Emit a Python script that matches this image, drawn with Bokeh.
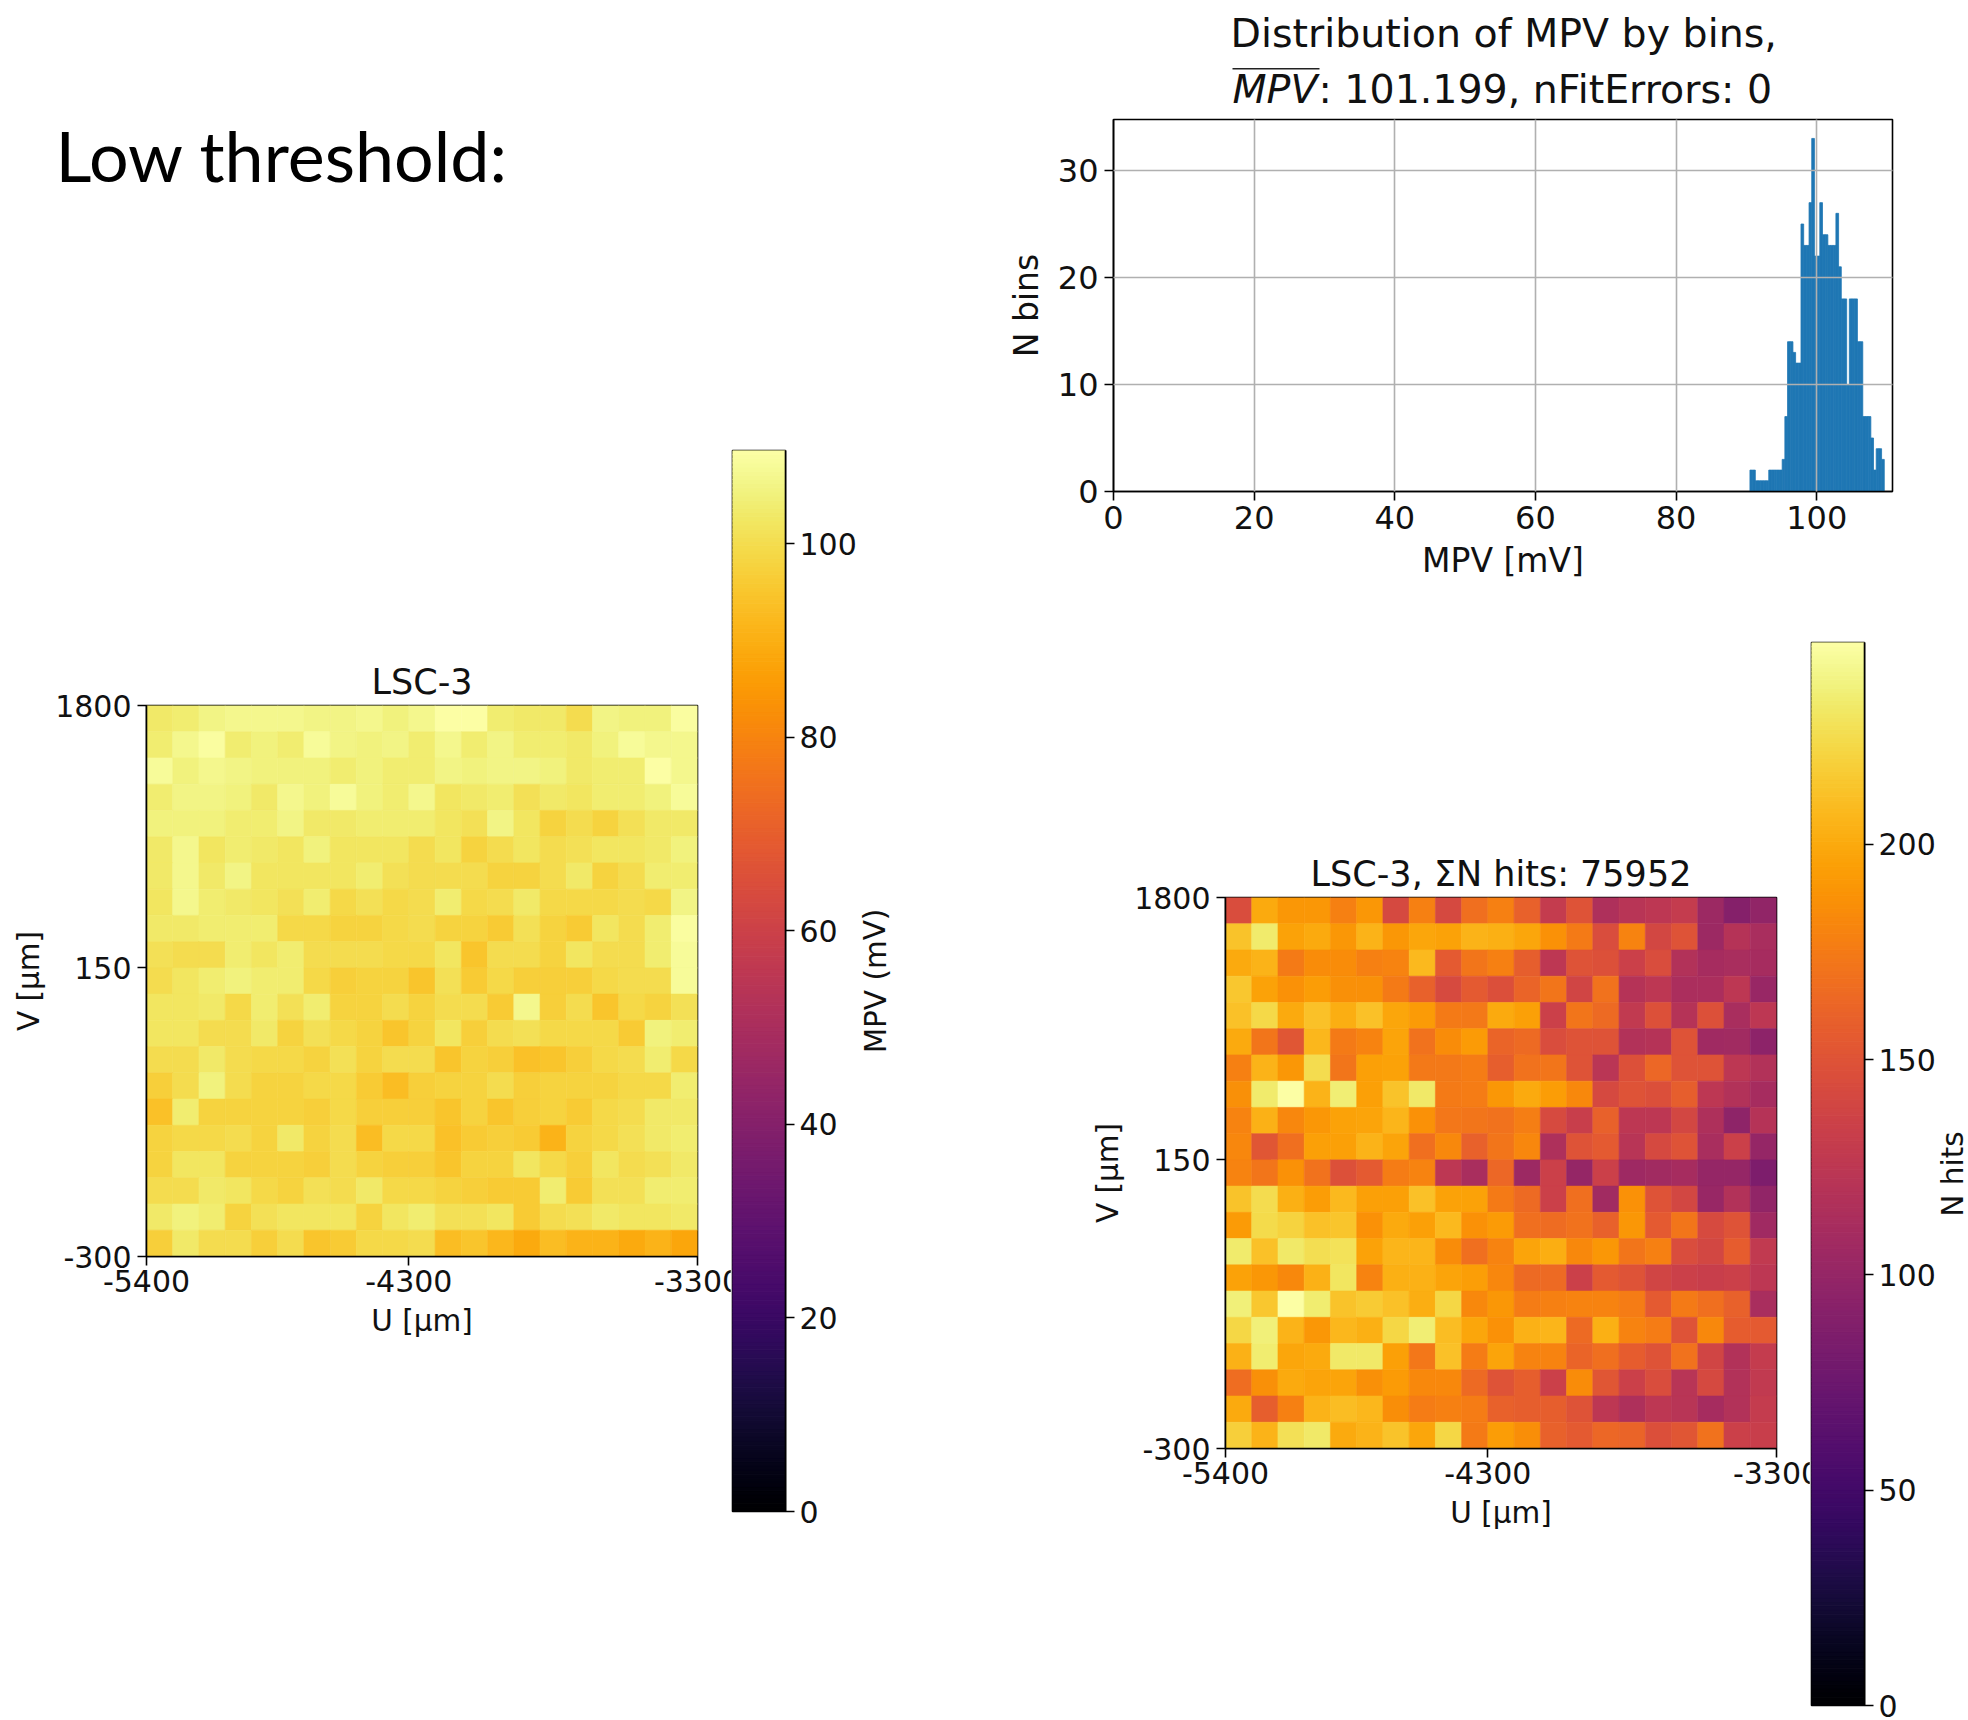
from bokeh.core.properties import value
import math
from bokeh.embed import file_html
from bokeh.resources import INLINE
from bokeh.layouts import row, column
from bokeh.models import Range1d, FixedTicker, LinearColorMapper, ColumnDataSource, Spacer
from bokeh.palettes import Inferno256
from bokeh.plotting import figure
from bokeh.transform import transform

mpv_matrix = [
 [103,104,106,107,107,107,106,106,107,105,107,110,110,104,103,103,100,106,105,105,109],
 [104,107,109,104,105,104,108,106,105,106,104,107,104,106,104,104,103,105,108,107,107],
 [108,105,107,106,105,105,105,104,105,104,104,106,105,106,106,105,103,104,104,110,107],
 [104,106,106,105,103,107,105,108,105,104,107,102,103,104,101,103,102,104,104,105,108],
 [105,105,105,104,104,106,103,103,104,104,104,102,101,106,102,98,100,98,101,103,103],
 [103,107,102,104,103,102,105,102,102,102,100,102,98,100,102,100,101,102,102,103,105],
 [103,107,103,106,102,102,102,102,104,101,100,100,100,98,98,100,103,98,100,104,104],
 [102,107,104,103,102,101,104,99,101,99,100,104,99,100,103,99,99,99,100,99,106],
 [103,103,104,104,104,99,99,98,98,99,100,98,98,96,101,98,96,102,100,104,109],
 [101,100,100,104,102,104,100,100,100,99,99,102,95,100,100,98,102,100,100,104,108],
 [100,102,104,105,104,104,99,97,98,98,95,101,96,99,97,97,97,99,100,100,108],
 [102,102,103,99,104,101,104,98,98,100,98,100,100,96,107,97,100,95,99,98,101],
 [102,102,100,100,103,98,101,99,98,95,98,102,97,100,101,99,99,99,96,105,104],
 [100,100,103,100,99,99,98,101,98,100,100,95,98,97,94,95,97,99,100,104,99],
 [97,100,105,100,98,98,99,99,96,93,97,98,98,100,97,98,98,98,99,99,104],
 [94,104,98,98,98,98,97,99,97,97,97,95,98,95,97,98,96,99,100,103,103],
 [98,99,99,100,98,103,98,100,93,99,99,94,96,97,96,91,98,99,101,103,104],
 [98,102,102,98,98,98,97,100,98,97,97,95,98,98,102,99,97,102,100,101,103],
 [100,100,103,102,99,98,101,100,103,99,99,98,97,96,96,104,96,101,101,104,104],
 [103,105,104,98,101,102,102,102,98,102,104,101,101,102,96,100,101,103,102,102,103],
 [97,103,100,100,97,100,95,96,99,99,100,93,95,92,89,93,91,91,89,91,88],
]
hits_matrix = [
 [145,200,190,190,178,190,142,178,142,168,178,160,130,150,115,122,125,130,105,90,98],
 [213,233,196,200,190,205,190,198,196,205,203,198,188,175,145,180,140,150,105,120,112],
 [200,205,175,185,185,178,180,208,155,172,178,158,125,150,148,135,145,118,110,112,110],
 [215,196,188,193,187,187,175,160,143,155,147,162,172,138,170,120,125,113,113,125,102],
 [212,223,200,212,202,212,198,192,175,174,200,195,135,172,165,128,148,120,148,112,125],
 [200,172,152,207,175,180,197,170,185,192,162,165,145,150,150,118,120,150,107,108,95],
 [178,205,190,225,172,195,196,174,174,176,158,170,172,150,123,148,163,150,150,125,118],
 [187,233,247,205,235,195,213,232,175,176,190,200,193,183,142,150,147,158,125,118,110],
 [180,204,182,190,196,197,206,188,173,172,170,177,143,133,160,125,125,140,115,96,120],
 [182,152,168,195,195,205,197,168,183,160,172,182,115,150,155,122,142,150,112,135,100],
 [180,172,188,170,148,155,176,180,125,112,163,105,135,100,135,106,108,110,100,100,85],
 [213,225,203,193,208,195,195,212,196,196,175,165,135,168,108,188,150,140,102,118,98],
 [192,224,220,212,214,188,200,195,208,188,192,168,166,170,160,190,155,172,143,150,107],
 [233,212,232,226,228,196,206,206,185,168,180,197,202,183,190,172,178,145,140,157,128],
 [196,190,183,204,230,180,203,204,197,194,182,165,165,135,155,150,138,135,133,135,125],
 [236,215,247,234,213,217,212,202,222,183,190,176,178,180,180,176,155,175,168,160,112],
 [222,236,205,190,207,203,222,235,210,198,188,204,206,165,203,180,176,150,183,157,155],
 [204,234,198,200,232,232,195,173,212,176,197,180,180,162,168,157,150,170,138,118,130],
 [167,187,200,197,197,187,192,183,183,165,150,158,135,185,152,135,145,122,142,118,128],
 [200,158,178,205,210,207,186,176,178,176,160,158,158,150,125,115,125,122,110,118,130],
 [218,205,227,232,200,205,213,198,222,175,193,186,160,155,163,162,147,152,170,135,133],
]
hist_counts = [2,2,1,1,1,1,1,2,2,2,2,2,3,7,14,14,13,12,12,25,23,23,27,33,22,22,27,24,24,
               23,23,23,26,21,18,18,10,18,18,18,14,14,7,7,7,5,2,4,4,3]
hist_low = 90.5
hist_high = 109.6
x_tick_labels = {0: "-5400", 10: "-4300", 21: "-3300"}
y_tick_labels = {0: "-300", 11: "150", 21: "1800"}
mpv_max = 109.66
hits_max = 246.9
mpv_cb_ticks = [0, 20, 40, 60, 80, 100]
hits_cb_ticks = [0, 50, 100, 150, 200]
hist_x_ticks = [0, 20, 40, 60, 80, 100]
hist_y_ticks = [0, 10, 20, 30]
FONT = "DejaVu Sans"
OVERLAP = 40


def style_axes(p, tick_px, label_px, lab_off=6, tick_off=3):
    p.outline_line_color = "black"
    p.outline_line_width = 1.6
    p.background_fill_color = "white"
    p.border_fill_color = "white"
    for ax in p.axis:
        ax.axis_line_color = "black"
        ax.axis_line_width = 1.6
        ax.major_tick_line_color = "black"
        ax.major_tick_line_width = 1.6
        ax.major_tick_out = 9
        ax.major_tick_in = 0
        ax.minor_tick_out = 0
        ax.minor_tick_in = 0
        ax.major_label_text_font = FONT
        ax.major_label_text_font_size = f"{tick_px}px"
        ax.major_label_text_color = "#111111"
        ax.major_label_standoff = tick_off
        ax.axis_label_text_font = FONT
        ax.axis_label_text_font_size = f"{label_px}px"
        ax.axis_label_text_font_style = "normal"
        ax.axis_label_text_color = "#111111"
        ax.axis_label_standoff = lab_off


def heatmap(matrix, vmax, title, width, height, left, top, right, bottom):
    mapper = LinearColorMapper(palette=Inferno256, low=0, high=vmax)
    n = len(matrix)
    l, r, b, t, v = [], [], [], [], []
    for i, rowvals in enumerate(matrix):
        for j, val in enumerate(rowvals):
            l.append(j); r.append(j + 1)
            b.append(n - 1 - i); t.append(n - i)
            v.append(val)
    src = ColumnDataSource(dict(left=l, right=r, bottom=b, top=t, v=v))
    p = figure(width=width, height=height, output_backend="svg", toolbar_location=None,
               x_range=Range1d(0, n), y_range=Range1d(0, n), frame_align=False,
               min_border_left=left, min_border_right=right, min_border_top=top,
               min_border_bottom=bottom, x_axis_label="U [μm]", y_axis_label="V [μm]",
               title=title, tools="")
    p.quad(left="left", right="right", bottom="bottom", top="top", source=src,
           fill_color=transform("v", mapper), line_color=transform("v", mapper), line_width=0.6)
    p.grid.visible = False
    style_axes(p, 30, 29.5)
    p.xaxis.major_label_standoff = 4
    p.xaxis.axis_label_standoff = 9
    p.yaxis.major_label_standoff = 6
    p.yaxis.axis_label_standoff = 6
    p.xaxis.ticker = FixedTicker(ticks=list(x_tick_labels))
    p.xaxis.major_label_overrides = x_tick_labels
    p.yaxis.ticker = FixedTicker(ticks=list(y_tick_labels))
    p.yaxis.major_label_overrides = y_tick_labels
    p.yaxis.major_label_orientation = "horizontal"
    p.title.align = "center"
    p.title.text_font = FONT
    p.title.text_font_size = "35px"
    p.title.text_font_style = "normal"
    p.title.text_color = "#111111"
    p.title.standoff = 8
    return p


def colorbar(vmax, ticks, width, height, top, bottom):
    mapper = LinearColorMapper(palette=Inferno256, low=0, high=vmax)
    k = len(Inferno256)
    lo = [vmax * i / k for i in range(k)]
    hi = [vmax * (i + 1) / k for i in range(k)]
    mid = [(a + c) / 2 for a, c in zip(lo, hi)]
    src = ColumnDataSource(dict(lo=lo, hi=hi, mid=mid))
    p = figure(width=width + 2, height=height, output_backend="svg", toolbar_location=None,
               x_range=Range1d(0, 1), y_range=Range1d(0, vmax), y_axis_location="right",
               frame_align=False, margin=(0, 0, 0, -(OVERLAP + 2)),
               min_border_left=2, min_border_right=width - 53, min_border_top=top,
               min_border_bottom=bottom, tools="")
    p.quad(left=0, right=1, bottom="lo", top="hi", source=src,
           fill_color=transform("mid", mapper), line_color=transform("mid", mapper), line_width=1)
    p.grid.visible = False
    p.xaxis.visible = False
    style_axes(p, 30, 29.5, lab_off=17, tick_off=5)
    p.yaxis.ticker = FixedTicker(ticks=ticks)
    p.yaxis.major_label_orientation = "horizontal"
    return p


def header(width, height):
    p = figure(width=width, height=height, output_backend="svg", toolbar_location=None,
               x_range=Range1d(0, width), y_range=Range1d(height, 0), frame_align=False,
               min_border_left=0, min_border_right=0, min_border_top=0, min_border_bottom=0,
               x_axis_location=None, y_axis_location=None, outline_line_color=None, tools="")
    p.grid.visible = False
    return p


def side_label(text, width, height, x, y):
    p = header(width, height)
    p.text(x=[x], y=[y], text=[text], text_font=value(FONT), text_font_size=value("29.5px"),
           text_color="#111111", text_align="center", text_baseline="middle", angle=[math.pi / 2])
    return p


# left part
head_left = header(732, 640)
head_left.text(x=[55], y=[154], text=["Low threshold:"], text_font=value("Lato"),
               text_font_size=value("70px"), text_color="black", text_baseline="alphabetic")
hm_left = heatmap(mpv_matrix, mpv_max, "LSC-3", 732 + OVERLAP, 1078, 146, 65, 35 + OVERLAP, 462)
cb_left = colorbar(mpv_max, mpv_cb_ticks, 128, 1718, 450, 207)
lab_left = side_label("MPV (mV)", 57, 1718, 15, 980.5)

# upper right: histogram with its two-line title
head_hist = header(1000, 110)
head_hist.text(x=[262], y=[32], text=["Distribution of MPV by bins,"], text_font=value(FONT),
               text_font_size=value("39.5px"), text_color="#111111", text_baseline="alphabetic")
head_hist.text(x=[264], y=[88], text=["MPV"], text_font=value(FONT), text_font_style="italic",
               text_font_size=value("39.5px"), text_color="#111111", text_baseline="alphabetic")
head_hist.text(x=[350], y=[88], text=[": 101.199, nFitErrors: 0"], text_font=value(FONT),
               text_font_size=value("39.5px"), text_color="#111111", text_baseline="alphabetic")
head_hist.segment(x0=[264], x1=[351], y0=[68.3], y1=[68.3], line_color="#222222", line_width=1.6)

hw = (hist_high - hist_low) / len(hist_counts)
hl = [hist_low + i * hw for i in range(len(hist_counts))]
hr = [a + hw for a in hl]
hist = figure(width=1000, height=490, output_backend="svg", toolbar_location=None,
              x_range=Range1d(0, 110.77), y_range=Range1d(0, 34.77), frame_align=False,
              min_border_left=145, min_border_right=76, min_border_top=9, min_border_bottom=109,
              x_axis_label="MPV [mV]", y_axis_label="N bins", tools="")
hist.quad(left=hl, right=hr, bottom=0, top=hist_counts, fill_color="#1f77b4", line_color="#1f77b4", line_width=0.8)
style_axes(hist, 32, 33)
hist.xaxis.major_label_standoff = 5
hist.yaxis.major_label_standoff = 6
hist.xaxis.axis_label_standoff = 9
hist.yaxis.axis_label_standoff = 9
hist.xaxis.ticker = FixedTicker(ticks=hist_x_ticks)
hist.yaxis.ticker = FixedTicker(ticks=hist_y_ticks)
hist.yaxis.major_label_orientation = "horizontal"
for g, tk in ((hist.xgrid, hist_x_ticks), (hist.ygrid, hist_y_ticks)):
    g.ticker = FixedTicker(ticks=tk)
    g.grid_line_color = "#b0b0b0"
    g.grid_line_width = 1.6
    g.level = "annotation"

# lower right
hm_right = heatmap(hits_matrix, hits_max, "LSC-3, ΣN hits: 75952", 843 + OVERLAP, 1118, 257, 297, 35 + OVERLAP, 270)
cb_right = colorbar(hits_max, hits_cb_ticks, 128, 1118, 42, 13)
lab_right = side_label("N hits", 29, 1118, 13, 573.5)

left_group = row(column(head_left, hm_left, spacing=0), cb_left, lab_left, spacing=0)
right_group = column(head_hist, hist, row(hm_right, cb_right, lab_right, spacing=0), spacing=0)
root = row(left_group, Spacer(width=51, height=10), right_group, spacing=0)

open("out.html", "w").write(file_html(root, INLINE))
